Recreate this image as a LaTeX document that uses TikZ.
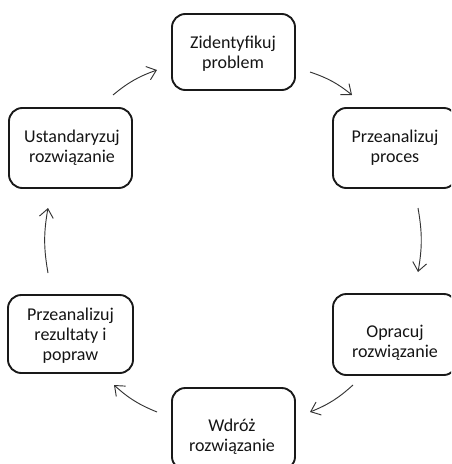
\documentclass[tikz,border=0pt]{standalone}
\usepackage{fontspec}
\setmainfont{Carlito}
\usetikzlibrary{arrows.meta}
\begin{document}
\begin{tikzpicture}[x=0.75pt,y=-0.75pt,
  stepbox/.style={draw=black!90,line width=1.4pt,rounded corners=10pt,inner sep=0pt},
  steptext/.style={align=center,font=\fontsize{13.5pt}{15pt}\selectfont,
    text=black!92,inner sep=0pt},
  flow/.style={draw=black!80,line width=0.7pt,
    -{Straight Barb[length=6.5pt,width=10.5pt,line width=0.7pt]}},
]
\useasboundingbox (0,0) rectangle (451,464);
\begin{scope}
\clip (0,0) rectangle (451,464);
% process boxes, clockwise from the top
\node[stepbox,minimum width=123*0.75pt,minimum height=76*0.75pt] (b1) at (233.5,52) {};
\node[stepbox,minimum width=124*0.75pt,minimum height=80*0.75pt] (b2) at (395,148) {};
\node[stepbox,minimum width=124*0.75pt,minimum height=81*0.75pt] (b3) at (395,334.5) {};
\node[stepbox,minimum width=123*0.75pt,minimum height=82*0.75pt] (b4) at (233.5,429) {};
\node[stepbox,minimum width=125*0.75pt,minimum height=78*0.75pt] (b5) at (70.5,334) {};
\node[stepbox,minimum width=123*0.75pt,minimum height=80*0.75pt] (b6) at (70.5,148) {};
\end{scope}
% labels
\node[steptext] (t1) at (233,54) {Zidentyfikuj\\problem};
\node[steptext] (t2) at (395,148) {Przeanalizuj\\proces};
\node[steptext] (t3) at (395,343) {Opracuj\\rozwiązanie};
\node[steptext] (t4) at (232,437) {Wdróż\\rozwiązanie};
\node[steptext] (t5) at (70.5,336) {Przeanalizuj\\rezultaty i\\popraw};
\node[steptext] (t6) at (72,148) {Ustandaryzuj\\rozwiązanie};
% arrow end points
\coordinate (a1s) at (113,95);  \coordinate (a1e) at (157,70);
\coordinate (a2s) at (310,72);  \coordinate (a2e) at (352,95);
\coordinate (a3s) at (418,208); \coordinate (a3e) at (418,272);
\coordinate (a4s) at (353,385); \coordinate (a4e) at (310,412);
\coordinate (a5s) at (157,412); \coordinate (a5e) at (114,385);
\coordinate (a6s) at (48,273);  \coordinate (a6e) at (48,208);
% cycle arrows
\draw[flow] (a1s) to[bend left=10] (a1e);
\draw[flow] (a2s) to[bend left=10] (a2e);
\draw[flow] (a3s) to[bend left=10] (a3e);
\draw[flow] (a4s) to[bend left=10] (a4e);
\draw[flow] (a5s) to[bend left=10] (a5e);
\draw[flow] (a6s) to[bend left=10] (a6e);
\end{tikzpicture}
\end{document}
